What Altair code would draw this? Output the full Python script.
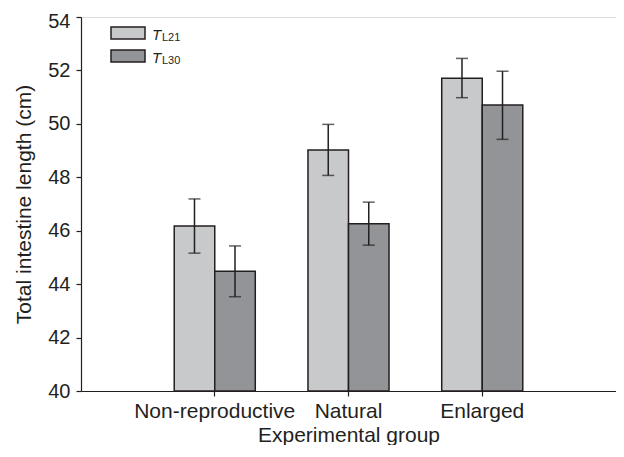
import altair as alt
import pandas as pd

groups = ["Non-reproductive", "Natural", "Enlarged"]
series = ["TL21", "TL30"]
mean_l21 = [46.18, 49.02, 51.71]
low_l21 = [45.16, 48.07, 50.98]
high_l21 = [47.19, 49.98, 52.45]
mean_l30 = [44.48, 46.26, 50.71]
low_l30 = [43.53, 45.46, 49.42]
high_l30 = [45.43, 47.07, 51.97]
y_ticks = [40, 42, 44, 46, 48, 50, 52, 54]

rows = []
for i, g in enumerate(groups):
    rows.append({"group": g, "series": "TL21", "mean": mean_l21[i], "low": low_l21[i], "high": high_l21[i]})
    rows.append({"group": g, "series": "TL30", "mean": mean_l30[i], "low": low_l30[i], "high": high_l30[i]})
df = pd.DataFrame(rows)

FONT = "Liberation Sans"
INK = "#231f20"
LIGHT = "#c8c9cb"
DARK = "#939498"

xscale = alt.Scale(domain=groups, paddingInner=0.394, paddingOuter=0.697)
x = alt.X("group:N", scale=xscale, sort=groups,
          axis=alt.Axis(title="Experimental group", labelAngle=0, tickSize=5,
                        labelPadding=4, titlePadding=3, labelFontSize=21, titleFontSize=21,
                        labelFont=FONT, titleFont=FONT, labelColor=INK, titleColor=INK,
                        domainColor=INK, tickColor=INK, domainWidth=1.2, tickWidth=1.2,
                        titleFontWeight="normal", labelFlush=False, labelOverlap=False))
xoff = alt.XOffset("series:N", scale=alt.Scale(domain=series, paddingInner=0, paddingOuter=0))
yscale = alt.Scale(domain=[40, 54], nice=False, zero=False)

base = alt.Chart(df)

bars = base.mark_bar(stroke=INK, strokeWidth=1.5).encode(
    x=x,
    xOffset=xoff,
    y=alt.Y("mean:Q", scale=yscale,
            axis=alt.Axis(title="Total intestine length (cm)", values=y_ticks, grid=False,
                          tickSize=5, labelPadding=6, titlePadding=13, labelFontSize=20,
                          titleFontSize=21, labelFont=FONT, titleFont=FONT, labelColor=INK,
                          titleColor=INK, domainColor=INK, tickColor=INK, domainWidth=1.2,
                          tickWidth=1.2, titleFontWeight="normal", labelFlush=False,
                          labelOffset={"condition": {"test": "datum.value >= 54", "value": 4}, "value": 0})),
    y2=alt.datum(40),
    color=alt.Color("series:N", scale=alt.Scale(domain=series, range=[LIGHT, DARK]), legend=None),
)

err = base.mark_rule(color=INK, strokeWidth=1.5).encode(
    x=alt.X("group:N", scale=xscale, sort=groups),
    xOffset=xoff,
    y=alt.Y("low:Q", scale=yscale),
    y2="high:Q",
)
cap_lo = base.mark_tick(color=INK, thickness=1.5, size=12, orient="horizontal").encode(
    x=alt.X("group:N", scale=xscale, sort=groups),
    xOffset=xoff,
    y=alt.Y("low:Q", scale=yscale),
)
cap_hi = base.mark_tick(color=INK, thickness=1.5, size=12, orient="horizontal").encode(
    x=alt.X("group:N", scale=xscale, sort=groups),
    xOffset=xoff,
    y=alt.Y("high:Q", scale=yscale),
)

legend_layers = []
legend_entries = [("L21", LIGHT, 10, 22), ("L30", DARK, 33, 45)]
for sub, col, top, bot in legend_entries:
    ld = pd.DataFrame({"T": ["T"], "sub": [sub]})
    legend_layers.append(alt.Chart(ld).mark_rect(color=col, stroke=INK, strokeWidth=1.5).encode(
        x=alt.value(30), x2=alt.value(64), y=alt.value(top), y2=alt.value(bot)))
    legend_layers.append(alt.Chart(ld).mark_text(font=FONT, fontSize=15, fontStyle="italic",
                                                 align="left", baseline="alphabetic", color=INK).encode(
        x=alt.value(71), y=alt.value(bot + 0.5), text="T:N"))
    legend_layers.append(alt.Chart(ld).mark_text(font=FONT, fontSize=11, align="left",
                                                 baseline="alphabetic", color=INK).encode(
        x=alt.value(81), y=alt.value(bot + 2), text="sub:N"))

chart = alt.layer(bars, err, cap_lo, cap_hi, *legend_layers).properties(
    width=535, height=374,
    autosize=alt.AutoSizeParams(type="none"),
    padding={"left": 73, "top": 9, "right": 0, "bottom": 54},
).configure_view(stroke=None).configure(background="white")

chart.save("out.html", embed_options={"renderer": "svg", "actions": False})
